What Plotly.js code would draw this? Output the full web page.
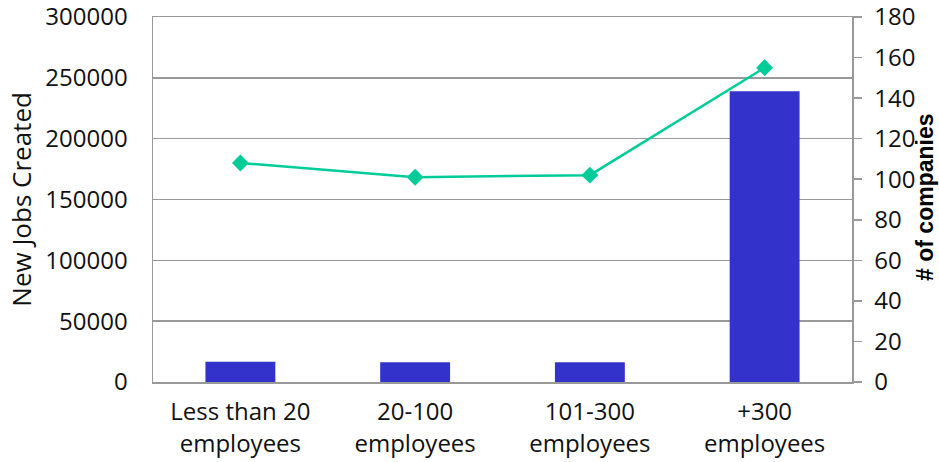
<!DOCTYPE html>
<html>
<head>
<meta charset="utf-8">
<script src="https://cdn.plot.ly/plotly-3.0.1.min.js"></script>
<style>html,body{margin:0;padding:0;background:#fff;}#chart{width:939px;height:462px;}</style>
</head>
<body>
<div id="chart"></div>
<script>
const categories = ["Less than 20<br>employees", "20-100<br>employees", "101-300<br>employees", "+300<br>employees"];
const newJobs = [16700, 16200, 16200, 239000];
const companies = [108, 101, 102, 155];
const leftTicks = [0, 50000, 100000, 150000, 200000, 250000, 300000];
const rightTicks = [0, 20, 40, 60, 80, 100, 120, 140, 160, 180];

const gridColor = "#999999";
const fam = "Open Sans, Noto Sans, sans-serif";
const tickFont = {family: fam, size: 24, color: "#111"};

const data = [
  {
    type: "bar", x: categories, y: newJobs, width: 0.4,
    marker: {color: "#3333CC"}, yaxis: "y", name: "New Jobs Created"
  },
  {
    type: "scatter", mode: "lines+markers", x: categories, y: companies, yaxis: "y2",
    line: {color: "#00CC99", width: 2.5},
    marker: {symbol: "diamond", size: 13, color: "#00CC99"}, name: "# of companies"
  }
];

const layout = {
  width: 939, height: 462,
  margin: {l: 153, r: 87, t: 17, b: 80},
  paper_bgcolor: "#fff", plot_bgcolor: "#fff",
  showlegend: false,
  xaxis: {
    type: "category", showline: true, linecolor: gridColor, linewidth: 1.5, mirror: true,
    showgrid: false, ticks: "", tickfont: {family: fam, size: 24, color: "#111"},
    ticklabelstandoff: 8, automargin: false
  },
  yaxis: {
    range: [0, 300000], tickvals: leftTicks, ticktext: leftTicks.map(String),
    showgrid: true, gridcolor: gridColor, gridwidth: 1.5,
    showline: true, linecolor: gridColor, linewidth: 1.5, zeroline: false,
    ticks: "", ticklabelstandoff: 19, tickfont: tickFont, automargin: false,
    ticklabeloverflow: "allow"
  },
  yaxis2: {
    overlaying: "y", side: "right", range: [0, 180], tickvals: rightTicks, ticktext: rightTicks.map(String),
    showgrid: false, showline: true, linecolor: gridColor, linewidth: 1.5, zeroline: false,
    ticks: "outside", ticklen: 8, tickcolor: gridColor, tickwidth: 1.5, tickfont: tickFont,
    ticklabelstandoff: 8, automargin: false, ticklabeloverflow: "allow"
  },
  annotations: [
    {text: "New Jobs Created", xref: "paper", yref: "paper", x: -0.19, y: 0.5,
     xanchor: "center", yanchor: "middle", textangle: -90, showarrow: false,
     font: {family: fam, size: 26, color: "#111"}},
    {text: "<b># of companies</b>", xref: "paper", yref: "paper", x: 1.1044, y: 0.507,
     xanchor: "center", yanchor: "middle", textangle: -90, showarrow: false,
     font: {family: "Liberation Sans, Arial, sans-serif", size: 23, color: "#000"}}
  ]
};

Plotly.newPlot("chart", data, layout, {displayModeBar: false, staticPlot: true});
</script>
</body>
</html>
